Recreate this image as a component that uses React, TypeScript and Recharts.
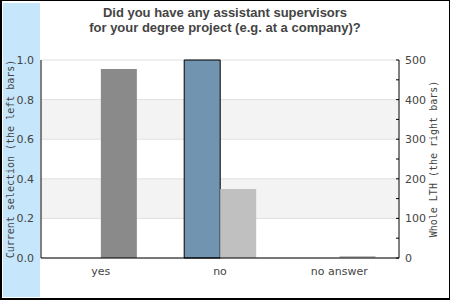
import React from 'react';
import { BarChart, Bar, XAxis, YAxis, CartesianGrid, Cell } from 'recharts';

const categories = ['yes', 'no', 'no answer'];
const currentSelection = [0, 1.0, 0];
const wholeLTH = [477, 174, 5];
const wholeColors = ['#8a8a8a', '#c0c0c0', '#c0c0c0'];
const leftTicks = [0, 0.2, 0.4, 0.6, 0.8, 1.0];
const rightTicks = [0, 50, 100, 150, 200, 250, 300, 350, 400, 450, 500];
const titleLines = ['Did you have any assistant supervisors', 'for your degree project (e.g. at a company)?'];

const data = categories.map((c, i) => ({ name: c, current: currentSelection[i], whole: wholeLTH[i] }));

const tickFont = { fontFamily: 'DejaVu Sans', fontSize: 11, fill: '#444' };

const RightTick = (props: any) => {
  const { x, y, payload } = props;
  const v = payload.value;
  return (
    <g>
      <line x1={x - 3} x2={x} y1={y} y2={y} stroke="#000" strokeWidth={1} />
      {v % 100 === 0 && (
        <text x={x + 6} y={y} dy="0.355em" textAnchor="start" {...tickFont}>
          {v}
        </text>
      )}
    </g>
  );
};

const LeftLabel = (props: any) => {
  const vb = props.viewBox;
  const cx = 10;
  const cy = vb.y + vb.height / 2;
  return (
    <text x={cx} y={cy} transform={`rotate(-90 ${cx} ${cy})`} textAnchor="middle" dy="0.355em"
      fontFamily="DejaVu Sans Mono" fontSize={10} fill="#444">
      Current selection (the left bars)
    </text>
  );
};

const RightLabel = (props: any) => {
  const vb = props.viewBox;
  const cx = 433;
  const cy = vb.y + vb.height / 2;
  return (
    <text x={cx} y={cy} transform={`rotate(-90 ${cx} ${cy})`} textAnchor="middle" dy="0.355em"
      fontFamily="DejaVu Sans Mono" fontSize={10} fill="#444">
      Whole LTH (the right bars)
    </text>
  );
};

export default function App() {
  return (
    <div style={{ position: 'absolute', left: 0, top: 0, width: 450, height: 300, background: '#fff', overflow: 'hidden' }}>
      <div style={{ position: 'absolute', left: 0, top: 0, width: 450, height: 1, background: '#000' }} />
      <div style={{ position: 'absolute', left: 0, top: 0, width: 2, height: 300, background: '#000' }} />
      <div style={{ position: 'absolute', left: 449, top: 0, width: 1, height: 300, background: '#000' }} />
      <div style={{ position: 'absolute', left: 0, top: 298, width: 450, height: 2, background: '#000' }} />
      <div style={{ position: 'absolute', left: 3, top: 3, width: 37, height: 294, background: '#c6e6fb' }} />
      <div style={{ position: 'absolute', left: 41, top: 5, width: 368, textAlign: 'center',
        fontFamily: 'Liberation Sans', fontWeight: 'bold', fontSize: 13, lineHeight: '15px', color: '#444' }}>
        {titleLines.map((l) => (<div key={l}>{l}</div>))}
      </div>
      <div style={{ position: 'absolute', left: 0, top: 0 }}>
        <BarChart width={450} height={300} data={data} margin={{ top: 60, right: 0, bottom: 0, left: 0 }}
          barCategoryGap="20%" barGap={0}>
          <CartesianGrid yAxisId="left" vertical={false} stroke="#e0e0e0" horizontalFill={['#ffffff', '#f3f3f3']} />
          <XAxis dataKey="name" height={42} tickLine={false} tickSize={0} tickMargin={9}
            axisLine={{ stroke: '#000' }} tick={tickFont} />
          <XAxis xAxisId="top" orientation="top" dataKey="name" height={0} tick={false} tickLine={false}
            axisLine={{ stroke: '#000' }} />
          <YAxis yAxisId="left" orientation="left" width={41} domain={[0, 1]} ticks={leftTicks}
            tickFormatter={(v: number) => v.toFixed(1)} tickLine={false} tickSize={0} tickMargin={7}
            axisLine={{ stroke: '#000' }} tick={tickFont} label={<LeftLabel />} />
          <YAxis yAxisId="right" orientation="right" width={51} domain={[0, 500]} ticks={rightTicks}
            interval={0} tickLine={false} tickSize={0} tickMargin={0}
            axisLine={{ stroke: '#000' }} tick={<RightTick />} label={<RightLabel />} />
          <Bar yAxisId="left" dataKey="current" fill="#7194b0" stroke="#000" strokeWidth={1} isAnimationActive={false} />
          <Bar yAxisId="right" dataKey="whole" isAnimationActive={false}>
            {data.map((d, i) => (<Cell key={d.name} fill={wholeColors[i]} />))}
          </Bar>
        </BarChart>
      </div>
    </div>
  );
}
